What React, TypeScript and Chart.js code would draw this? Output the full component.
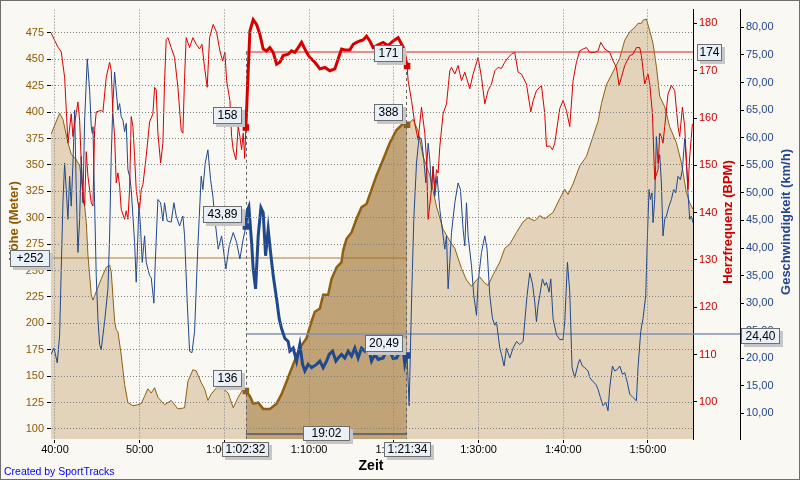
import React, { useEffect, useRef } from "react";
import { Chart, registerables } from "chart.js";

Chart.register(...registerables);

const FONT = '"Liberation Sans", Arial, sans-serif';

// ---- axis ticks ----
const timeTicks = [40, 50, 60, 70, 80, 90, 100, 110];
const elevTicks = [100, 125, 150, 175, 200, 225, 250, 275, 300, 325, 350, 375, 400, 425, 450, 475];
const hrTicks = [100, 110, 120, 130, 140, 150, 160, 170, 180];
const speedTicks = [10, 15, 20, 25, 30, 35, 40, 45, 50, 55, 60, 65, 70, 75, 80];

// ---- selection (1:02:32 – 1:21:34) and summary values ----
const selStart = 3752 / 60;
const selEnd = 4894 / 60;
const hrAvg = 174;
const speedAvg = 24.4;

// ---- elevation (minutes, metres) ----
const elevTime = [
  39.53, 40.55, 40.94, 41.53, 41.92, 42.51, 42.91, 43.3, 43.69, 43.89,
  44.28, 44.48, 44.87, 45.46, 46.05, 46.45, 46.64, 47.04, 47.23, 47.43,
  47.82, 48.22, 48.61, 49.2, 49.79, 50.18, 50.58, 50.97, 51.36, 51.76,
  52.15, 52.94, 53.72, 54.51, 55.3, 55.69, 56.28, 56.67, 57.26, 57.66,
  58.05, 58.44, 59.08, 59.86, 60.45, 61.04, 61.63, 62.22, 62.5333, 63.01,
  63.4, 63.99, 64.58, 65.37, 66.16, 66.75, 67.34, 68.12, 68.91, 69.7,
  70.29, 70.68, 71.27, 71.66, 72.25, 72.65, 73.24, 73.83, 74.02, 74.42,
  75.01, 75.6, 76.19, 76.78, 77.17, 77.96, 78.74, 79.53, 80.32, 81.1,
  81.5667, 82.28, 82.87, 83.45, 84.25, 85.03, 85.82, 86.61, 87.2, 87.99,
  88.58, 89.17, 89.76, 90.15, 90.74, 91.13, 91.72, 92.51, 93.1, 93.69,
  94.48, 95.26, 95.85, 96.64, 97.23, 97.82, 98.8, 99.59, 100.18, 100.57,
  101.16, 101.95, 102.74, 103.52, 104.11, 104.51, 105.1, 105.88, 106.67, 107.26,
  107.85, 108.44, 108.83, 109.23, 109.42, 109.82, 110.21, 110.6, 111.0, 111.39,
  111.98, 112.57, 113.36, 113.95, 114.54, 114.93, 115.32,
];
const elevM = [
  379, 399, 393, 371, 360, 355, 349, 327, 296, 265,
  227, 222, 230, 242, 253, 255, 249, 202, 194, 192,
  170, 142, 125, 122, 123, 124, 131, 138, 134, 139,
  130, 123, 127, 119, 120, 145, 156, 155, 144, 138,
  127, 133, 139, 138, 134, 120, 130, 138, 136, 131,
  124, 125, 119, 119, 124, 133, 145, 161, 177, 186,
  202, 211, 214, 227, 227, 242, 253, 258, 269, 280,
  286, 299, 310, 313, 322, 340, 355, 371, 383, 389,
  388, 393, 382, 358, 340, 311, 289, 278, 271, 252,
  241, 235, 241, 244, 238, 236, 246, 258, 271, 275,
  286, 296, 300, 297, 302, 299, 305, 318, 327, 322,
  332, 349, 358, 377, 391, 408, 426, 438, 451, 468,
  476, 480, 484, 484, 487, 488, 477, 465, 443, 415,
  405, 386, 371, 352, 324, 314, 308,
];

// ---- heart rate (minutes, bpm) ----
const hrTime = [
  39.53, 40.35, 40.74, 41.14, 41.53, 41.92, 42.12, 42.32, 42.71, 42.91,
  43.1, 43.3, 43.5, 43.69, 43.89, 44.28, 44.48, 44.68, 44.87, 45.46,
  45.66, 46.05, 46.45, 46.64, 46.84, 47.04, 47.23, 47.43, 47.63, 47.82,
  48.22, 48.41, 48.61, 48.81, 49.0, 49.2, 49.4, 49.59, 49.79, 49.99,
  50.18, 50.38, 50.77, 51.17, 51.56, 51.76, 51.95, 52.15, 52.47, 52.74,
  52.94, 53.13, 53.33, 53.72, 54.12, 54.51, 54.9, 55.1, 55.3, 55.49,
  55.89, 56.28, 56.67, 57.07, 57.35, 57.66, 57.97, 58.25, 58.68, 59.08,
  59.47, 59.79, 60.06, 60.26, 60.65, 60.85, 61.04, 61.36, 61.63, 61.83,
  62.03, 62.22, 62.4, 62.5333, 62.81, 63.01, 63.4, 63.8, 64.19, 64.58,
  64.98, 65.37, 65.76, 66.16, 66.55, 66.94, 67.53, 67.93, 68.32, 68.71,
  69.11, 69.7, 70.09, 70.68, 71.27, 71.86, 72.45, 73.04, 73.43, 73.83,
  74.22, 74.81, 75.2, 75.6, 75.99, 76.38, 76.78, 77.17, 77.56, 78.15,
  78.74, 79.33, 79.92, 80.51, 81.1, 81.5667, 81.69, 82.09, 82.48, 82.87,
  83.27, 83.66, 83.86, 84.05, 84.45, 84.64, 84.84, 85.04, 85.23, 85.43,
  85.82, 86.22, 86.61, 86.81, 87.2, 87.59, 87.99, 88.38, 88.97, 89.36,
  89.95, 90.35, 90.74, 91.13, 91.53, 91.92, 92.31, 92.71, 93.1, 93.49,
  93.89, 94.28, 94.67, 95.07, 95.66, 96.17, 96.45, 96.84, 97.43, 97.82,
  98.02, 98.41, 98.73, 99.0, 99.39, 99.59, 99.98, 100.38, 100.77, 101.16,
  101.56, 101.95, 102.34, 102.74, 103.13, 103.72, 104.11, 104.43, 104.9, 105.49,
  105.88, 106.28, 106.59, 106.87, 107.26, 107.85, 108.24, 108.64, 109.03, 109.23,
  109.62, 110.01, 110.21, 110.53, 110.8, 111.19, 111.39, 111.59, 111.78, 111.98,
  112.37, 112.77, 113.16, 113.55, 113.75, 114.07, 114.34, 114.73, 114.93, 115.25,
];
const hrBpm = [
  178, 175, 174, 168.6, 154.7, 160.9, 156.1, 158.8, 163.4, 159.5,
  150.5, 142.8, 141.4, 152.9, 147.7, 142.1, 141.4, 157.4, 161.3, 161.6,
  161.3, 168.6, 171.8, 170, 160.9, 156.1, 146.3, 148.4, 145.6, 140.7,
  138.6, 140.4, 138.6, 144.9, 160.3, 158.2, 151.9, 144.9, 142.1, 140.7,
  144.9, 145.9, 151.9, 159.2, 160.9, 166.5, 166, 156.8, 150.5, 154.7,
  167.9, 176.6, 177, 174.9, 172.8, 166.5, 157.4, 156.8, 168.6, 177,
  174.9, 177, 175.6, 174.6, 175.6, 170.7, 166.5, 177, 179.8, 178.1,
  174.2, 172.1, 173.9, 167.9, 163.7, 156.1, 153.3, 151.2, 158.2, 156.1,
  153.3, 156.8, 151.5, 158, 170, 178.4, 180.8, 179.8, 177.7, 174.6,
  174.2, 174.9, 173.9, 171.4, 171.8, 173.2, 173.5, 174.2, 173.9, 174.9,
  176, 173.9, 172.8, 171.8, 170.4, 170.7, 170, 170.4, 172.5, 174.6,
  174.4, 174.4, 175.6, 176, 176.3, 176.5, 177.3, 176.3, 174.9, 175.5,
  176, 175.3, 176.3, 177, 175, 171, 167.9, 163.7, 158.8, 155.4,
  162.3, 156.8, 151.2, 138.6, 144.9, 149.8, 144.9, 149.1, 148.4, 154,
  160.9, 163, 170, 170.7, 169.3, 171.1, 167.9, 169.7, 166.2, 169.3,
  172.8, 168.6, 163, 165.8, 167.2, 170, 170.7, 170.5, 171.8, 172.8,
  173.5, 173.9, 169.7, 169.3, 167.2, 161.3, 163.7, 165.8, 166.9, 160.9,
  154, 154.1, 153.3, 154.7, 159.5, 162, 163.7, 161.6, 158.2, 167.9,
  171.8, 174.2, 174.6, 174.9, 173.9, 173.9, 174.2, 176, 174.6, 173.9,
  172.1, 170.7, 166.9, 168.6, 171.1, 173.2, 173.5, 174.9, 174.9, 173.2,
  167.2, 169.3, 167.2, 160.9, 147, 149.1, 156.8, 156.1, 154.7, 158.2,
  165.1, 166.9, 165.8, 158.2, 156.1, 162.3, 158.2, 144.9, 151.9, 158.8,
];

// ---- speed (minutes, km/h) ----
const speedTime = [
  39.53, 39.88, 40.27, 40.55, 40.74, 40.94, 41.14, 41.33, 41.53, 41.73,
  41.92, 42.12, 42.32, 42.51, 42.71, 42.91, 43.1, 43.3, 43.5, 43.81,
  44.09, 44.28, 44.4, 44.48, 44.68, 44.87, 45.07, 45.27, 45.46, 45.86,
  46.25, 46.45, 46.64, 46.84, 47.04, 47.23, 47.43, 47.63, 47.82, 48.02,
  48.22, 48.41, 48.61, 48.81, 49.0, 49.2, 49.4, 49.59, 49.71, 49.91,
  50.11, 50.3, 50.58, 50.77, 51.17, 51.36, 51.68, 51.84, 52.15, 52.47,
  52.74, 52.94, 53.25, 53.72, 54.04, 54.31, 54.71, 55.1, 55.3, 55.61,
  55.89, 56.17, 56.48, 56.87, 57.26, 57.46, 57.74, 58.05, 58.37, 58.64,
  58.88, 59.27, 59.67, 60.18, 60.57, 61.04, 61.44, 61.83, 62.22, 62.5333,
  62.69, 62.89, 63.21, 63.4, 63.68, 63.99, 64.31, 64.58, 64.86, 65.17,
  65.45, 65.76, 66.16, 66.47, 66.75, 67.14, 67.53, 67.73, 68.12, 68.52,
  68.91, 69.23, 69.5, 69.89, 70.29, 70.88, 71.27, 71.66, 72.06, 72.37,
  72.77, 73.16, 73.43, 73.83, 74.22, 74.61, 75.01, 75.4, 75.79, 76.19,
  76.58, 76.97, 77.37, 77.76, 78.15, 78.74, 79.13, 79.53, 79.92, 80.32,
  80.71, 81.1, 81.3, 81.5667, 81.81, 82.09, 82.36, 82.68, 82.99, 83.27,
  83.54, 83.78, 84.05, 84.25, 84.45, 84.64, 84.84, 85.11, 85.43, 85.82,
  86.02, 86.22, 86.41, 86.61, 86.81, 87.2, 87.59, 87.87, 88.18, 88.38,
  88.58, 88.77, 89.17, 89.44, 89.76, 89.95, 90.35, 90.74, 91.01, 91.33,
  91.65, 91.92, 92.12, 92.51, 92.71, 93.02, 93.3, 93.69, 94.08, 94.48,
  94.87, 95.26, 95.46, 95.73, 96.05, 96.37, 96.64, 96.84, 97.03, 97.23,
  97.55, 97.82, 98.02, 98.33, 98.53, 98.8, 99.2, 99.59, 99.98, 100.18,
  100.5, 100.77, 101.04, 101.36, 101.75, 101.95, 102.27, 102.54, 102.93, 103.13,
  103.45, 103.84, 104.11, 104.39, 104.7, 105.02, 105.29, 105.49, 105.81, 106.08,
  106.4, 106.67, 106.99, 107.26, 107.57, 107.85, 108.24, 108.64, 108.83, 109.15,
  109.42, 109.74, 109.94, 110.13, 110.29, 110.48, 110.6, 110.8, 111.0, 111.19,
  111.39, 111.59, 111.78, 111.98, 112.18, 112.49, 112.77, 113.04, 113.28, 113.55,
  113.83, 114.07, 114.34, 114.54, 114.73, 114.93, 115.13, 115.32,
];
const speedKmh = [
  20.7, 21.85, 19.16, 24.26, 36.2, 48.2, 55.4, 50.6, 45.2, 53,
  47.6, 55.4, 65, 50.6, 39.2, 45.2, 56.6, 48.2, 63.2, 74.3,
  68.6, 62, 60.8, 62, 48.2, 35, 27.2, 22.5, 21.6, 26.7,
  32.6, 42.2, 56.6, 66.2, 71.9, 68.6, 65, 66.2, 63.8, 63.2,
  61.1, 62.6, 54.2, 53, 50.6, 45.8, 41, 33.8, 38.6, 48.2,
  43.4, 37.4, 42.2, 37.4, 35, 34.6, 30, 37.4, 48.8, 48.2,
  44.9, 48.2, 44.9, 44.7, 48.2, 45.8, 44, 45.8, 42.2, 30.2,
  21.3, 21, 24.9, 40.4, 53, 50.6, 55.4, 57.8, 52.4, 49.4,
  45.2, 39.8, 42.2, 36.2, 40.4, 42.8, 41, 38, 41.6, 43.89,
  46.7, 47.5, 41, 36.2, 32.6, 42.2, 47.3, 46.4, 38.6, 43.4,
  39.2, 35, 30.8, 27.2, 25.4, 23.6, 23.05, 21.3, 21.85, 19.5,
  22.5, 18.9, 17.7, 18.9, 18.3, 18.9, 19.5, 18.3, 19.5, 20.7,
  21.3, 19.5, 20.05, 20.7, 20.05, 21.3, 20.4, 21.85, 20.05, 21.85,
  21.3, 22.2, 19.5, 20.7, 19.8, 20.05, 21.5, 21.3, 20, 20.05,
  21.2, 21.85, 18.9, 20.49, 11.4, 30.2, 45.2, 55.4, 60.2, 59.6,
  56, 51.8, 59, 56, 50.6, 54.8, 49.4, 53, 47, 42.2,
  39.8, 42.2, 32.6, 37.4, 42.8, 48.2, 51.8, 50.6, 43.4, 40.4,
  48.2, 42.2, 36.8, 31.4, 27.8, 33.8, 39.2, 42.2, 39.8, 31.4,
  27.2, 26, 26.6, 21.85, 20.7, 18.6, 21.85, 20.05, 21.85, 23.05,
  22.5, 23.05, 26.65, 31.4, 35.5, 33.5, 30.2, 26.65, 29.6, 31.4,
  34.4, 33.2, 33.8, 32, 34.4, 27.2, 24.3, 23.4, 23.4, 26.65,
  37.4, 32, 18.3, 16.5, 18.9, 19.8, 18.6, 18.3, 17.7, 16.5,
  15.9, 15.3, 14.4, 12.9, 11.4, 12, 10.5, 14.7, 18.6, 17.7,
  18, 18.6, 17.1, 17.4, 15.6, 13.5, 12.9, 12.3, 18.3, 24.9,
  27.2, 31.4, 42.2, 50.6, 48.8, 50, 44.6, 48.8, 60.2, 55.4,
  56.9, 51.8, 42.2, 45.2, 45.8, 47.6, 48.8, 50.6, 50, 53,
  52.4, 54.2, 59.9, 55.4, 50, 45.2, 45.8, 44.6,
];

// ---- colours ----
const BG = "rgb(250,248,243)";
const BROWN = "rgb(145,95,15)";
const BROWN_TXT = "rgb(140,90,0)";
const TAN_LIGHT = "rgb(226,211,186)";
const TAN_DARK = "rgb(192,163,118)";
const RED = "rgb(215,0,0)";
const RED_TXT = "rgb(204,0,0)";
const BLUE = "rgb(32,72,140)";
const BLUE_TXT = "rgb(35,70,140)";
const GRID = "rgb(128,128,128)";

function pts(ts: number[], vs: number[]) {
  const n = Math.min(ts.length, vs.length);
  const out: { x: number; y: number }[] = [];
  for (let i = 0; i < n; i++) out.push({ x: ts[i], y: vs[i] });
  return out;
}
const inSel = (p: { x: number }) => p.x >= selStart - 0.001 && p.x <= selEnd + 0.001;
function valAt(ts: number[], vs: number[], t: number) {
  let best = 0;
  for (let i = 0; i < ts.length; i++) if (Math.abs(ts[i] - t) < Math.abs(ts[best] - t)) best = i;
  return vs[best];
}
const pad = (n: number) => (n < 10 ? "0" + n : "" + n);
function clock(min: number) {
  const s = Math.round(min * 60);
  const h = Math.floor(s / 3600);
  const m = Math.floor((s % 3600) / 60);
  const sec = s % 60;
  return h > 0 ? `${h}:${pad(m)}:${pad(sec)}` : `${m}:${pad(sec)}`;
}
const comma = (v: number) => v.toFixed(2).replace(".", ",");

function drawBox(ctx: CanvasRenderingContext2D, text: string, x: number, y: number, w: number, h: number) {
  x = Math.round(x);
  y = Math.round(y);
  ctx.save();
  ctx.fillStyle = "rgb(198,198,198)";
  ctx.fillRect(x + 3, y + 3, w, h);
  ctx.fillStyle = "rgb(233,240,247)";
  ctx.fillRect(x, y, w, h);
  ctx.strokeStyle = "rgb(110,110,110)";
  ctx.lineWidth = 1;
  ctx.strokeRect(x + 0.5, y + 0.5, w - 1, h - 1);
  ctx.fillStyle = "#000";
  ctx.font = `12px ${FONT}`;
  ctx.textAlign = "center";
  ctx.textBaseline = "middle";
  ctx.fillText(text, x + w / 2, y + h / 2 + 0.5);
  ctx.restore();
}

export default function App() {
  const ref = useRef<HTMLCanvasElement>(null);

  useEffect(() => {
    const canvas = ref.current;
    if (!canvas) return;

    const elevAll = pts(elevTime, elevM);
    const hrAll = pts(hrTime, hrBpm);
    const spAll = pts(speedTime, speedKmh);
    const elevSel = elevAll.filter(inSel);
    const hrSel = hrAll.filter(inSel);
    const spSel = spAll.filter(inSel);

    const eStart = valAt(elevTime, elevM, selStart);
    const eEnd = valAt(elevTime, elevM, selEnd);
    const hStart = valAt(hrTime, hrBpm, selStart);
    const hEnd = valAt(hrTime, hrBpm, selEnd);
    const sStart = valAt(speedTime, speedKmh, selStart);
    const sEnd = valAt(speedTime, speedKmh, selEnd);
    const elevMid = (eStart + eEnd) / 2;
    const gain = eEnd - eStart;

    const marker = (c: any) =>
      c.dataIndex === 0 || c.dataIndex === c.dataset.data.length - 1 ? 4.6 : 0;

    const overlay = {
      id: "overlay",
      beforeDraw(chart: any) {
        const ctx = chart.ctx;
        ctx.save();
        ctx.fillStyle = BG;
        ctx.fillRect(0, 0, chart.width, chart.height);
        ctx.restore();
      },
      afterDatasetDraw(chart: any, args: any) {
        if (args.index !== 1) return;
        const { ctx, chartArea, scales } = chart;
        const xs = scales.x.getPixelForValue(selStart);
        const xe = scales.x.getPixelForValue(selEnd);
        ctx.save();
        ctx.lineWidth = 2;
        // elevation mid line
        let y = Math.round(scales.yElev.getPixelForValue(elevMid));
        ctx.strokeStyle = "rgba(160,110,40,0.45)";
        ctx.beginPath();
        ctx.moveTo(chartArea.left, y);
        ctx.lineTo(xe, y);
        ctx.stroke();
        // heart rate average
        y = Math.round(scales.yHr.getPixelForValue(hrAvg));
        ctx.strokeStyle = "rgba(220,70,70,0.6)";
        ctx.beginPath();
        ctx.moveTo(xs, y);
        ctx.lineTo(chartArea.right, y);
        ctx.stroke();
        // speed average
        y = Math.round(scales.ySpeed.getPixelForValue(speedAvg));
        ctx.strokeStyle = "rgba(130,145,175,0.75)";
        ctx.beginPath();
        ctx.moveTo(xs, y);
        ctx.lineTo(scales.ySpeed.left, y);
        ctx.stroke();
        // selection boundaries
        ctx.lineWidth = 1;
        ctx.strokeStyle = "rgb(100,100,100)";
        ctx.setLineDash([3, 3]);
        const xsr = Math.round(xs) + 0.5;
        const xer = Math.round(xe) - 0.5;
        ctx.beginPath();
        ctx.moveTo(xsr, scales.yHr.getPixelForValue(hrAvg));
        ctx.lineTo(xsr, chartArea.bottom);
        ctx.moveTo(xer, scales.yHr.getPixelForValue(hEnd));
        ctx.lineTo(xer, chartArea.bottom);
        ctx.stroke();
        ctx.restore();
      },
      afterDraw(chart: any) {
        const { ctx, chartArea, scales } = chart;
        const xs = scales.x.getPixelForValue(selStart);
        const xe = scales.x.getPixelForValue(selEnd);
        ctx.save();
        // axis titles
        const vtitle = (t: string, x: number, y: number, color: string) => {
          ctx.save();
          ctx.translate(x, y);
          ctx.rotate(-Math.PI / 2);
          ctx.font = `bold 13px ${FONT}`;
          ctx.fillStyle = color;
          ctx.textAlign = "center";
          ctx.textBaseline = "middle";
          ctx.fillText(t, 0, 0);
          ctx.restore();
        };
        vtitle("Höhe (Meter)", 14.5, 221, BROWN_TXT);
        vtitle("Herzfrequenz (BPM)", 728, 222, RED_TXT);
        vtitle("Geschwindigkeit (km/h)", 786, 222, BLUE_TXT);
        ctx.font = `bold 14px ${FONT}`;
        ctx.fillStyle = "#000";
        ctx.textAlign = "center";
        ctx.textBaseline = "middle";
        ctx.fillText("Zeit", 371, 466.5);
        ctx.font = `10.5px ${FONT}`;
        ctx.fillStyle = "rgb(0,0,255)";
        ctx.textAlign = "left";
        ctx.textBaseline = "alphabetic";
        ctx.fillText("Created by SportTracks", 4, 475);

        // duration bar
        ctx.strokeStyle = "rgb(105,105,105)";
        ctx.lineWidth = 2;
        ctx.beginPath();
        ctx.moveTo(xs, chartArea.bottom - 5);
        ctx.lineTo(xe, chartArea.bottom - 5);
        ctx.stroke();
        ctx.restore();

        // value boxes at the selection markers
        const yE = scales.yElev, yH = scales.yHr, yS = scales.ySpeed;
        drawBox(ctx, String(hStart), xs - 4 - 29, yH.getPixelForValue(hStart) - 4 - 17, 29, 17);
        drawBox(ctx, comma(sStart), xs - 4 - 39, yS.getPixelForValue(sStart) - 4 - 17, 39, 17);
        drawBox(ctx, String(eStart), xs - 4 - 29, yE.getPixelForValue(eStart) - 4 - 17, 29, 17);
        drawBox(ctx, String(hEnd), xe - 4 - 29, yH.getPixelForValue(hEnd) - 4 - 17, 29, 17);
        drawBox(ctx, String(eEnd), xe - 4 - 29, yE.getPixelForValue(eEnd) - 4 - 17, 29, 17);
        drawBox(ctx, comma(sEnd), xe - 4 - 38, yS.getPixelForValue(sEnd) - 4 - 17, 38, 17);
        // reference-line boxes
        drawBox(ctx, "+" + gain, chartArea.left - 41, yE.getPixelForValue(elevMid) - 8, 40, 17);
        drawBox(ctx, String(hrAvg), chartArea.right + 4, yH.getPixelForValue(hrAvg) - 8, 25, 17);
        drawBox(ctx, comma(speedAvg), yS.left + 1, yS.getPixelForValue(speedAvg) - 6.5, 39, 16);
        // time boxes
        drawBox(ctx, clock(selStart), xs - 23.5, chartArea.bottom + 2.5, 47, 15);
        drawBox(ctx, clock(selEnd), xe - 23.5, chartArea.bottom + 2.5, 47, 15);
        drawBox(ctx, clock(selEnd - selStart), (xs + xe) / 2 - 23.5, chartArea.bottom - 13.5, 47, 15);

        // frame
        ctx.save();
        ctx.strokeStyle = "rgb(110,110,110)";
        ctx.lineWidth = 1;
        ctx.strokeRect(0.5, 0.5, chart.width - 1, chart.height - 1);
        ctx.restore();
      },
    };

    const tickFont = { family: FONT, size: 11 };

    const chart = new Chart(canvas, {
      type: "line",
      data: {
        datasets: [
          {
            data: elevAll, xAxisID: "x", yAxisID: "yElev", fill: "start",
            backgroundColor: TAN_LIGHT, borderColor: BROWN, borderWidth: 1,
            pointRadius: 0, tension: 0, order: 10,
          },
          {
            data: elevSel, xAxisID: "x", yAxisID: "yElev", fill: "start",
            backgroundColor: TAN_DARK, borderColor: BROWN, borderWidth: 2.5,
            pointRadius: marker, pointStyle: "rect", pointBackgroundColor: BROWN,
            pointBorderWidth: 0, tension: 0, order: 9,
          },
          {
            data: spAll, xAxisID: "x", yAxisID: "ySpeed", fill: false,
            borderColor: BLUE, borderWidth: 1, pointRadius: 0, tension: 0, order: 6,
          },
          {
            data: spSel, xAxisID: "x", yAxisID: "ySpeed", fill: false,
            borderColor: BLUE, borderWidth: 3, pointRadius: marker, pointStyle: "rect",
            pointBackgroundColor: BLUE, pointBorderWidth: 0, tension: 0, order: 5,
          },
          {
            data: hrAll, xAxisID: "x", yAxisID: "yHr", fill: false,
            borderColor: RED, borderWidth: 1, pointRadius: 0, tension: 0, order: 4,
          },
          {
            data: hrSel, xAxisID: "x", yAxisID: "yHr", fill: false,
            borderColor: RED, borderWidth: 3, pointRadius: marker, pointStyle: "rect",
            pointBackgroundColor: RED, pointBorderWidth: 0, tension: 0, order: 3,
          },
        ],
      },
      options: {
        responsive: false,
        maintainAspectRatio: false,
        animation: false,
        devicePixelRatio: 1,
        events: [],
        layout: { padding: { top: 5, left: 0, right: 0, bottom: 0 } },
        plugins: {
          legend: { display: false },
          tooltip: { enabled: false },
          title: { display: false },
        },
        scales: {
          x: {
            type: "linear",
            position: "bottom",
            min: 39.53,
            max: 115.32,
            afterFit: (s: any) => { s.height = 41; },
            afterBuildTicks: (s: any) => { s.ticks = timeTicks.map((v) => ({ value: v })); },
            ticks: {
              callback: (v: any) => clock(Number(v)),
              color: "#000", font: tickFont, padding: 0, autoSkip: false, maxRotation: 0,
            },
            grid: {
              color: GRID, lineWidth: 1, z: 1, drawTicks: true, tickLength: 4,
              tickColor: "#000", tickWidth: 1, tickBorderDash: [],
            },
            border: { display: true, color: "#000", width: 1, dash: [1, 2] },
          },
          yElev: {
            type: "linear",
            position: "left",
            min: 90.5,
            max: 497,
            afterFit: (s: any) => { s.width = 51; },
            afterBuildTicks: (s: any) => { s.ticks = elevTicks.map((v) => ({ value: v })); },
            ticks: { color: BROWN_TXT, font: tickFont, padding: 3, autoSkip: false },
            grid: {
              color: GRID, lineWidth: 1, z: 1, drawTicks: true, tickLength: 4,
              tickColor: "#000", tickWidth: 1, tickBorderDash: [],
            },
            border: { display: true, color: "#000", width: 1, dash: [1, 2] },
          },
          yHr: {
            type: "linear",
            position: "right",
            weight: 1,
            min: 92.15,
            max: 182.93,
            afterFit: (s: any) => { s.width = 47; },
            afterBuildTicks: (s: any) => { s.ticks = hrTicks.map((v) => ({ value: v })); },
            ticks: { color: RED_TXT, font: tickFont, padding: 2, autoSkip: false },
            grid: {
              drawOnChartArea: false, drawTicks: true, tickLength: 4,
              tickColor: "#000", tickWidth: 1, color: "#000",
            },
            border: { display: true, color: "#000", width: 1 },
          },
          ySpeed: {
            type: "linear",
            position: "right",
            weight: 2,
            min: 5.37,
            max: 83.23,
            afterFit: (s: any) => { s.width = 60; },
            afterBuildTicks: (s: any) => { s.ticks = speedTicks.map((v) => ({ value: v })); },
            ticks: {
              color: BLUE_TXT, font: tickFont, padding: 2, autoSkip: false,
              callback: (v: any) => comma(Number(v)),
            },
            grid: {
              drawOnChartArea: false, drawTicks: true, tickLength: 4,
              tickColor: "#000", tickWidth: 1, color: "#000",
            },
            border: { display: true, color: "#000", width: 1 },
          },
        },
      } as any,
      plugins: [overlay],
    } as any);

    return () => chart.destroy();
  }, []);

  return (
    <div style={{ position: "fixed", left: 0, top: 0, width: 800, height: 480, background: BG }}>
      <canvas ref={ref} width={800} height={480} style={{ display: "block", width: 800, height: 480 }} />
    </div>
  );
}
